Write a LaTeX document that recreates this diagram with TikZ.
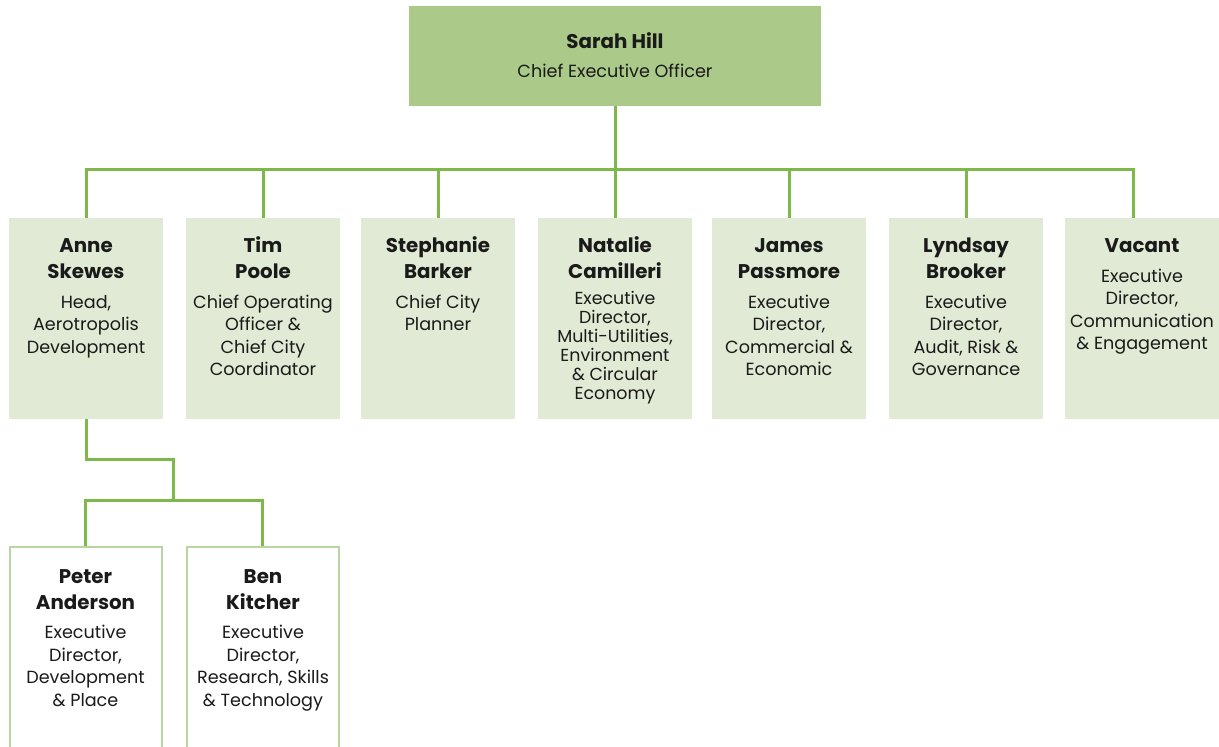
\documentclass[tikz,border=0pt]{standalone}
\usepackage{fontspec}
\setmainfont{Poppins}
\usetikzlibrary{positioning}
\definecolor{ceogreen}{HTML}{ABCA89}
\definecolor{rolegreen}{HTML}{E1EAD4}
\definecolor{linegreen}{HTML}{7CB84A}
\definecolor{subgreen}{HTML}{B8D6A0}
\definecolor{textblack}{HTML}{1A1A1A}
\newcommand{\namefont}{\bfseries\fontsize{9.9}{13}\selectfont}
\newcommand{\titlefont}{\fontsize{8.8}{11.25}\selectfont}
\newcommand{\staff}[4]{\parbox[c][#1][t]{76pt}{\centering\rule{0pt}{#2}{\namefont #3\par}\vspace{3.5pt}{\titlefont #4\par}}}

\begin{document}
\begin{tikzpicture}[x=0.5pt, y=-0.5pt,
	rolebox/.style={fill=rolegreen, inner sep=0pt, minimum width=77pt, text=textblack},
	subbox/.style={draw=subgreen, line width=1pt, fill=white, inner sep=0pt, minimum width=75.5pt, text=textblack},
	orgline/.style={draw=linegreen, line width=1.5pt}]
	\useasboundingbox (0,0) rectangle (1219,747);
	\node[fill=ceogreen, inner sep=0pt, minimum width=206pt, minimum height=50pt, text=textblack] (ceo) at (615,56)
		{\parbox[c][50pt][t]{200pt}{\centering\rule{0pt}{21.5pt}{\namefont Sarah Hill\par}\vspace{3pt}{\titlefont Chief Executive Officer\par}}};
	\node[rolebox] (anne) at (86,318.5) {\staff{100.5pt}{17.5pt}{Anne\\Skewes}{Head,\\Aerotropolis\\Development}};
	\node[rolebox] (tim) at (263,318.5) {\staff{100.5pt}{17.5pt}{Tim\\Poole}{Chief Operating\\Officer \&\\Chief City\\Coordinator}};
	\node[rolebox] (stephanie) at (438,318.5) {\staff{100.5pt}{17.5pt}{Stephanie\\Barker}{Chief City\\Planner}};
	\node[rolebox] (natalie) at (615,318.5) {\def\titlefont{\fontsize{8.7}{9.5}\selectfont}\staff{100.5pt}{17.5pt}{Natalie\\Camilleri}{Executive\\Director,\\Multi-Utilities,\\Environment\\\& Circular\\Economy}};
	\node[rolebox] (james) at (789,318.5) {\staff{100.5pt}{17.5pt}{James\\Passmore}{Executive\\Director,\\Commercial \&\\Economic}};
	\node[rolebox] (lyndsay) at (966,318.5) {\staff{100.5pt}{17.5pt}{Lyndsay\\Brooker}{Executive\\Director,\\Audit, Risk \&\\Governance}};
	\node[rolebox] (vacant) at (1142,318.5) {\staff{100.5pt}{17.5pt}{Vacant}{Executive\\Director,\\Communication\\\& Engagement}};
	\node[subbox] (peter) at (85.5,653.5) {\staff{106.5pt}{18pt}{Peter\\Anderson}{Executive\\Director,\\Development\\\& Place}};
	\node[subbox] (ben) at (263,653.5) {\staff{106.5pt}{18pt}{Ben\\Kitcher}{Executive\\Director,\\Research, Skills\\\& Technology}};
	\coordinate (bar) at (615,170);
	\coordinate (split) at (173,460);
	\coordinate (fork) at (173,501);
	\draw[orgline] (ceo.south) -- (bar);
	\draw[orgline] (anne.north) |- (bar) -| ([xshift=-4.5pt]vacant.north);
	\draw[orgline] (bar -| tim.north) -- (tim.north);
	\draw[orgline] (bar -| stephanie.north) -- (stephanie.north);
	\draw[orgline] (bar) -- (natalie.north);
	\draw[orgline] (bar -| james.north) -- (james.north);
	\draw[orgline] (bar -| lyndsay.north) -- (lyndsay.north);
	\draw[orgline] (anne.south) |- (split) -- (fork);
	\draw[orgline] (peter.north) |- (fork) -| ([xshift=-0.5pt]ben.north);
\end{tikzpicture}
\end{document}
